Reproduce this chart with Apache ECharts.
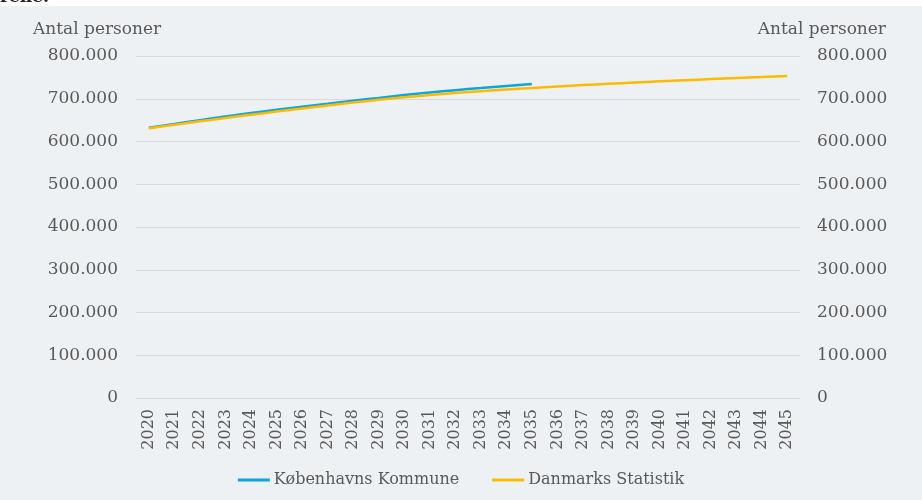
<!DOCTYPE html>
<html>
<head>
	<meta charset="utf-8" />
	<title>Antal personer</title>
	<script src="https://cdn.jsdelivr.net/npm/echarts@6/dist/echarts.min.js"></script>
	<style>
		* {
			margin: 0;
			padding: 0;
		}

		html,
		body {
			width: 922px;
			height: 500px;
			background: #fff;
			overflow: hidden;
		}

		.top {
			height: 6px;
			overflow: hidden;
			position: relative;
		}

		.top span {
			position: absolute;
			left: 0;
			top: -14px;
			font: bold 17px 'DejaVu Serif', serif;
			color: #222;
		}

		#main {
			width: 922px;
			height: 494px;
			background: #eef1f4;
		}
	</style>
</head>
<body>
	<div class="top"><span>rene.</span></div>
	<div id="main"></div>
	<script>
		var years = ['2020', '2021', '2022', '2023', '2024', '2025', '2026', '2027', '2028', '2029',
			'2030', '2031', '2032', '2033', '2034', '2035', '2036', '2037', '2038', '2039',
			'2040', '2041', '2042', '2043', '2044', '2045'];
		// Københavns Kommune (til 2035)
		var kommune = [632000, 641000, 650000, 658500, 666500, 674000, 681500, 688500, 695500, 702000,
			708500, 714500, 720000, 725000, 730000, 734500];
		// Danmarks Statistik (til 2045)
		var dst = [631000, 639200, 647200, 655000, 662600, 670000, 677200, 684200, 691000, 697500,
			703300, 708600, 713400, 717800, 721800, 725400, 728800, 732000, 735000, 737900,
			740700, 743400, 746000, 748500, 750900, 753200];
		var yTicks = { min: 0, max: 800000, interval: 100000 };

		var font = 'DejaVu Serif';
		var grey = '#595959';

		function fmt(v) {
			if (v == 0) return '0';
			return String(v).replace(/\B(?=(\d{3})+(?!\d))/g, '.');
		}

		var chart = echarts.init(document.getElementById('main'));
		var option = {
			animation: false,
			textStyle: { fontFamily: font },
			grid: {
				left: 136,
				right: 122,
				top: 50,
				bottom: 102
			},
			graphic: [
				{
					type: 'text', left: 33, top: 15,
					style: { text: 'Antal personer', font: '17px "DejaVu Serif"', fill: grey }
				},
				{
					type: 'text', right: 36, top: 15,
					style: { text: 'Antal personer', font: '17px "DejaVu Serif"', fill: grey }
				}
			],
			legend: {
				bottom: 7,
				left: 'center',
				itemGap: 33,
				itemWidth: 32,
				itemHeight: 3,
				icon: 'rect',
				textStyle: { fontFamily: font, fontSize: 16, color: grey, padding: [0, 0, 0, -1] },
				data: ['Københavns Kommune', 'Danmarks Statistik']
			},
			xAxis: {
				type: 'category',
				data: years,
				boundaryGap: true,
				axisLine: { show: true, lineStyle: { color: '#d9d9d9' } },
				axisTick: { show: false },
				axisLabel: {
					rotate: 90,
					interval: 0,
					margin: 11,
					color: grey,
					fontFamily: font,
					fontSize: 16
				}
			},
			yAxis: [
				{
					type: 'value',
					min: yTicks.min,
					max: yTicks.max,
					interval: yTicks.interval,
					axisLine: { show: false },
					axisTick: { show: false },
					splitLine: { lineStyle: { color: '#d9d9d9' } },
					axisLabel: { color: grey, fontFamily: font, fontSize: 17, margin: 18, formatter: fmt }
				},
				{
					type: 'value',
					position: 'right',
					min: yTicks.min,
					max: yTicks.max,
					interval: yTicks.interval,
					axisLine: { show: false },
					axisTick: { show: false },
					splitLine: { show: false },
					axisLabel: { color: grey, fontFamily: font, fontSize: 17, margin: 17, formatter: fmt }
				}
			],
			series: [
				{
					name: 'Københavns Kommune',
					type: 'line',
					data: kommune,
					smooth: true,
					showSymbol: false,
					color: '#0ea5de',
					lineStyle: { width: 2.5 }
				},
				{
					name: 'Danmarks Statistik',
					type: 'line',
					data: dst,
					smooth: true,
					showSymbol: false,
					color: '#fdbb00',
					lineStyle: { width: 2.5 }
				}
			]
		};
		chart.setOption(option);
	</script>
</body>
</html>
